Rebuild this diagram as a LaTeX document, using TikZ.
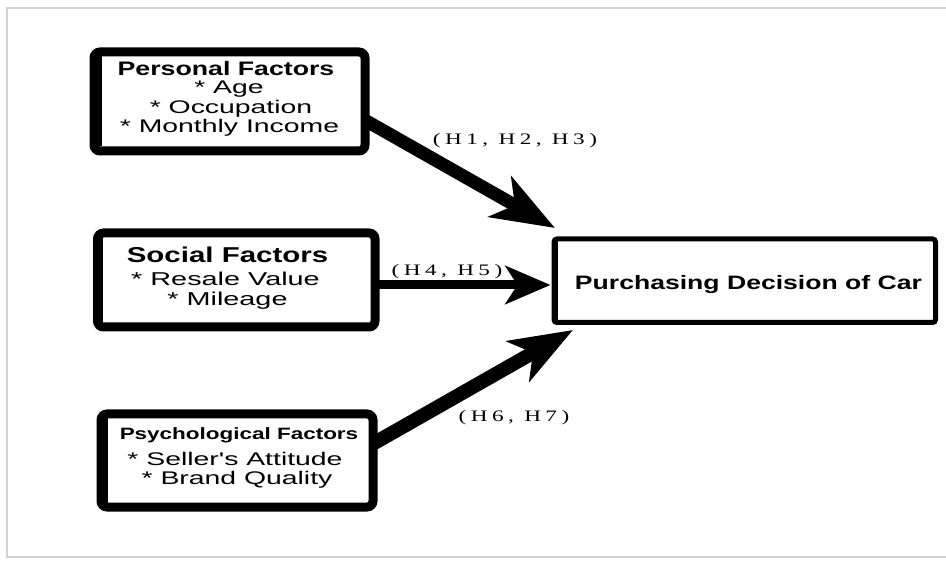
\documentclass[tikz,border=0pt]{standalone}
\usepackage{fontspec}
\usetikzlibrary{arrows.meta,calc}
\newfontfamily\sansx[FakeStretch=1.37]{Liberation Sans}
\newfontfamily\sansitem[FakeStretch=1.55]{Liberation Sans}
\newfontfamily\labfont[FakeStretch=1.45,LetterSpace=28]{Liberation Serif}
\begin{document}
\begin{tikzpicture}[x=1pt,y=-1pt,
  factorbox/.style={draw=black, line width=9pt, rounded corners=6pt, inner sep=0pt, fill=white},
  decbox/.style={draw=black, line width=5pt, rounded corners=3pt, inner sep=0pt, fill=white},
  leftedge/.style={line width=#1},
  boxtitle/.style={anchor=base, inner sep=0pt},
  titlefont/.style={font=\sansx\bfseries\fontsize{#1}{#1}\selectfont},
  itemfont/.style={font=\sansitem\fontsize{#1}{#1}\selectfont},
  hlabel/.style={anchor=base, inner sep=0pt, font=\labfont\fontsize{16}{16}\selectfont},
  bigarrow/.style={line width=#1, -{Stealth[length=63pt,width=46pt,inset=17pt]}},
]
\useasboundingbox (0,0) rectangle (946,561);
\fill[white] (0,0) rectangle (946,561);
\draw[gray!35, line width=1.4pt] (7,8) rectangle (960,557);

% boxes
\node[factorbox, minimum width=271pt, minimum height=99pt] (pers) at (229.5,101.5) {};
\node[factorbox, minimum width=277.5pt, minimum height=94pt] (soc) at (236.25,280) {};
\node[factorbox, minimum width=272pt, minimum height=93pt] (psy) at (237,460.5) {};
\node[decbox, minimum width=381.5pt, minimum height=83.5pt] (dec) at (744.75,280.75) {};

% thicker left edges (thickened inward)
\draw[leftedge=12.5pt] ($(pers.north west)+(6.25,9)$) -- ($(pers.south west)+(6.25,-9)$);
\draw[leftedge=10pt] ($(soc.north west)+(5,9)$) -- ($(soc.south west)+(5,-9)$);
\draw[leftedge=11.5pt] ($(psy.north west)+(5.75,9)$) -- ($(psy.south west)+(5.75,-9)$);
\draw[leftedge=6.5pt] ($(dec.north west)+(3.25,4)$) -- ($(dec.south west)+(3.25,-4)$);

% texts
\node[boxtitle, titlefont=19.5] (pt) at (226,76) {Personal Factors};
\node[boxtitle, itemfont=18.3] (p1) at (229,94) {* Age};
\node[boxtitle, itemfont=18.3] (p2) at (231,113.5) {* Occupation};
\node[boxtitle, itemfont=18.3] (p3) at (229.5,133) {* Monthly Income};

\node[boxtitle, titlefont=21.5] (st) at (227.5,263) {Social Factors};
\node[boxtitle, itemfont=18.6] (s1) at (225.5,286) {* Resale Value};
\node[boxtitle, itemfont=18.6] (s2) at (227.5,306) {* Mileage};

\node[boxtitle, titlefont=16.4] (yt) at (239,440) {Psychological Factors};
\node[boxtitle, itemfont=18.3] (y1) at (235,465) {* Seller{\char"27}s Attitude};
\node[boxtitle, itemfont=18.3] (y2) at (237,485) {* Brand Quality};

\node[boxtitle, titlefont=19.4] (dt) at (748.5,290) {Purchasing Decision of Car};

% arrows
\draw[bigarrow=13pt] ($(pers.east)+(-4,19)$) -- ($(dec.north west)+(3.5,-8.5)$);
\draw[line width=9pt, -{Stealth[length=45pt,width=38pt,inset=12pt]}] ($(soc.east)+(-4,5)$) -- ($(dec.west)+(-1,4.25)$);
\draw[bigarrow=14pt] ($(psy.east)+(-4,-17)$) -- ($(dec.south west)+(21.5,5)$);

% labels
\node[hlabel] (l1) at (515,145) {(H1, H2, H3)};
\node[hlabel] (l2) at (447,276) {(H4, H5)};
\node[hlabel] (l3) at (514,422) {(H6, H7)};
\end{tikzpicture}
\end{document}
